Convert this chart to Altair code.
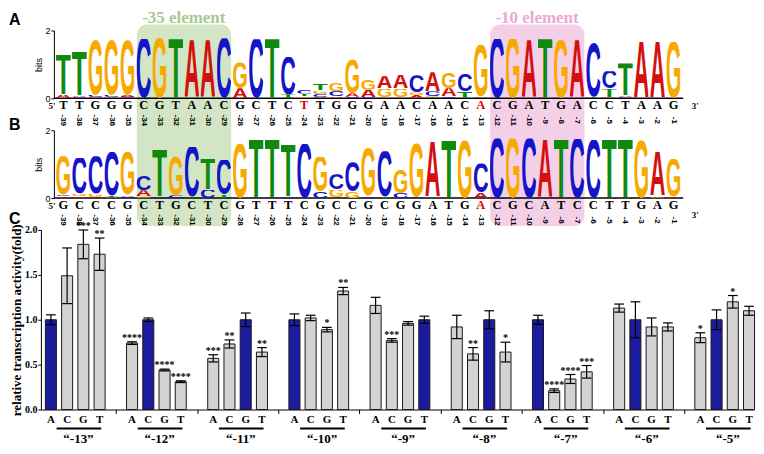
import base64
import altair as alt
import pandas as pd

# ---------------- data ----------------
POSITIONS = list(range(-39, 0))
SEQ_A = "TTGGGCGTAACGCTCTTGGGAACAACACGATGACCTAAG"
SEQ_B = "GCCCGCTGCTCGTTTCGCCGCGGATGACGCATCCTTGAG"
RED_POS_A = [-24, -13]
RED_POS_B = [-13]

# information content (bits) per letter, positions -39 .. -1
A_BITS_A = [.10, .05, .04, .03, .06, 0, 0, 0, 1.71, 1.71, 0, .30, 0, 0, 0, .02, .04, .05, .10, .22,
            .36, .40, .08, .56, .25, .02, .05, 0, 0, 1.71, 0, 0, 1.71, 0, .03, .05, 1.66, 1.66, 0]
C_BITS_A = [0, .03, .06, .07, .03, 1.76, 0, 0, 0, 0, 1.77, 0, 1.74, 0, 1.10, .12, .09, .15, .05, .03,
            .02, .02, .50, .14, .05, .50, 0, 1.76, 0, 0, 0, 0, 0, 1.58, .52, .03, 0, 0, 0]
G_BITS_A = [0, 0, 1.62, 1.62, 1.62, 0, 1.77, 0, 0, 0, 0, .76, 0, 0, 0, .05, .10, .24, 1.00, .32,
            .27, .27, .08, .04, .45, 0, 1.52, 0, 1.76, 0, 0, 1.71, 0, 0, 0, 0, 0, 0, 1.66]
T_BITS_A = [1.18, 1.30, 0, 0, 0, 0, 0, 1.74, 0, 0, 0, 0, 0, 1.74, .12, .07, .20, .02, 0, 0,
            0, 0, .02, .03, 0, .20, 0, 0, 0, 0, 1.74, 0, 0, .05, .25, .95, 0, 0, 0]

A_BITS_B = [.05, .05, .03, 0, .05, .18, 0, 0, 0, 0, 0, 0, 0, 0, 0, 0, 0, .03, 0, 0,
            0, 0, 0, 1.64, 0, 0, .16, 0, 0, 0, 1.71, 0, 0, 0, 0, 0, 0, 1.32, .05]
C_BITS_B = [.05, 1.05, 1.10, 1.30, .03, .42, .04, .08, 1.50, .25, 1.02, 0, 0, 0, .03, 1.60, .20, .45, .86, .05,
            1.35, .15, .03, 0, 0, 0, .86, 1.76, 0, 1.76, 0, 0, 1.74, 1.71, 0, 0, 0, 0, 0]
G_BITS_B = [1.13, .08, .10, .02, 1.28, .05, 0, 1.15, 0, 0, 0, 1.60, 0, 0, 0, 0, 1.02, .22, .20, 1.42,
            0, .68, 1.58, 0, 0, 1.70, 0, 0, 1.76, 0, 0, 0, 0, 0, 0, 0, 1.70, .05, 1.10]
T_BITS_B = [0, 0, 0, .05, 0, 0, 1.38, 0, .02, .90, .10, 0, 1.71, 1.71, 1.55, 0, 0, 0, 0, 0,
            .03, 0, 0, .02, 1.70, 0, 0, 0, 0, 0, 0, 1.71, 0, 0, 1.71, 1.71, 0, 0, 0]

ELEMENT_NAMES = ["-35 element", "-10 element"]
ELEMENT_START = [-34, -12]
ELEMENT_END = [-29, -7]

GROUPS = ["-13", "-12", "-11", "-10", "-9", "-8", "-7", "-6", "-5"]
BASES = ["A", "C", "G", "T"]
REF_BASE = ["A", "C", "G", "A", "T", "G", "A", "C", "C"]
VALUES = [[1.00, 1.49, 1.84, 1.73],
          [0.74, 1.00, 0.44, 0.31],
          [0.57, 0.73, 1.00, 0.64],
          [1.00, 1.02, 0.89, 1.32],
          [1.16, 0.77, 0.96, 1.00],
          [0.92, 0.62, 1.00, 0.64],
          [1.00, 0.21, 0.34, 0.42],
          [1.13, 1.00, 0.92, 0.92],
          [0.80, 1.00, 1.20, 1.10]]
ERRORS = [[.055, .31, .16, .18],
          [.015, .02, .01, .01],
          [.04, .045, .075, .05],
          [.065, .03, .025, .04],
          [.09, .02, .02, .04],
          [.13, .07, .10, .11],
          [.05, .02, .05, .07],
          [.045, .20, .10, .045],
          [.055, .11, .07, .05]]
STARS = [["", "", "***", "**"],
         ["****", "", "****", "****"],
         ["***", "**", "", "**"],
         ["", "", "*", "**"],
         ["", "***", "", ""],
         ["", "**", "", "*"],
         ["", "****", "****", "***"],
         ["", "", "", ""],
         ["*", "", "*", ""]]

# ---------------- styles ----------------
LETTER_COLORS = {"A": "#d40f0f", "C": "#1414c8", "G": "#f6aa00", "T": "#0f8a0f"}
BOX_FILLS = ["#d2e5c4", "#f4d0e8"]
ELEMENT_COLORS = ["#a6c98f", "#eaa8d3"]
BLUE = "#1b1b9e"
GRAY = "#d3d3d3"
SERIF = "Liberation Serif"
SANS = "Liberation Sans"

W = 715
H_LOGO = 68
H_BAR = 180

XS_LOGO = alt.Scale(domain=[-1.3975, 43.0125], nice=False, zero=False)
YS_LOGO = alt.Scale(domain=[0, 2], nice=False, zero=False)
XS_BAR = alt.Scale(domain=[-0.614, 43.306], nice=False, zero=False)
YS_BAR = alt.Scale(domain=[0, 2], nice=False, zero=False)

AXIS_BITS = alt.Axis(values=[0, 1, 2], format="d", title="bits", offset=-13, tickSize=3,
                     labelFontSize=9, titleFontSize=9, labelFont=SANS, titleFont=SANS,
                     titleFontWeight="normal", labelPadding=1, titlePadding=1,
                     domainColor="black", tickColor="black", labelColor="black",
                     titleColor="black", grid=False)
AXIS_BAR_Y = alt.Axis(values=[0, 0.5, 1, 1.5, 2], format=".1f",
                      title="relative transcription activity(fold)",
                      titleFont=SERIF, titleFontWeight="bold", titleFontSize=13,
                      labelFont=SERIF, labelFontWeight="bold", labelFontSize=10,
                      tickSize=3, labelPadding=1, titlePadding=1, grid=False,
                      domainColor="black", tickColor="black", labelColor="black",
                      titleColor="black")
AXIS_BAR_X = alt.Axis(values=[5 * g + 4 for g in range(len(GROUPS) - 1)], labels=False,
                      tickSize=4, title=None, grid=False, domainColor="black",
                      tickColor="black")


def letter_uri(letter):
    svg = ("<svg xmlns='http://www.w3.org/2000/svg' width='100' height='100' viewBox='0 0 100 100' "
           "preserveAspectRatio='none'>"
           "<text x='50' y='98' text-anchor='middle' font-family='Liberation Sans, Arial, sans-serif' "
           "font-weight='bold' font-size='143' textLength='106' lengthAdjust='spacingAndGlyphs' "
           f"fill='{LETTER_COLORS[letter]}'>{letter}</text></svg>")
    return "data:image/svg+xml;base64," + base64.b64encode(svg.encode()).decode()


URIS = {L: letter_uri(L) for L in "ACGT"}
IDX = [p + 39 for p in POSITIONS]


def logo_frame(bits):
    rows = []
    for i in range(len(POSITIONS)):
        stack = sorted((bits[L][i], L) for L in "ACGT" if bits[L][i] > 0)
        base = 0.0
        for h, L in stack:
            rows.append(dict(x0=i - 0.46, x1=i + 0.46, y0=base, y1=base + h, url=URIS[L]))
            base += h
    return pd.DataFrame(rows)


def lx(field):
    return alt.X(field, type="quantitative", scale=XS_LOGO, axis=None)


def ly(field):
    return alt.Y(field, type="quantitative", scale=YS_LOGO, axis=AXIS_BITS)


def logo_panel(bits, seq, red_pos, panel_letter, top):
    logo_df = logo_frame(bits)
    seq_df = pd.DataFrame({"x": IDX, "t": list(seq),
                           "c": ["#e00000" if p in red_pos else "black" for p in POSITIONS]})
    num_df = pd.DataFrame({"x": IDX, "t": [str(p) for p in POSITIONS]})
    box_df = pd.DataFrame({"x0": [s + 39 - 0.42 for s in ELEMENT_START],
                           "x1": [e + 39 + 0.45 for e in ELEMENT_END],
                           "fill": BOX_FILLS})
    if top:
        radius = dict(cornerRadiusTopLeft=10, cornerRadiusTopRight=10)
        ytop, ybot = -6, H_LOGO + 34
    else:
        radius = dict(cornerRadiusBottomLeft=10, cornerRadiusBottomRight=10)
        ytop, ybot = -2, H_LOGO + 28
    boxes = alt.Chart(box_df).mark_rect(**radius).encode(
        x=lx("x0"), x2="x1:Q", y=alt.value(ytop), y2=alt.value(ybot),
        fill=alt.Fill("fill:N", scale=None))

    base_df = pd.DataFrame({"x0": [IDX[0] - 0.59], "x1": [IDX[-1] + 0.6], "y": [0]})
    baseline = alt.Chart(base_df).mark_rule(color="black", strokeWidth=1.5).encode(
        x=lx("x0"), x2="x1:Q", y=ly("y"))

    logo = alt.Chart(logo_df).mark_image(aspect=False).encode(
        x=lx("x0"), x2="x1:Q", y=ly("y0"), y2="y1:Q", url="url:N")

    seq_row = alt.Chart(seq_df).mark_text(font=SERIF, fontWeight="bold", fontSize=12.5,
                                          baseline="middle").encode(
        x=lx("x"), y=alt.value(H_LOGO + 7), text="t:N", color=alt.Color("c:N", scale=None))
    nums = alt.Chart(num_df).mark_text(font=SANS, fontWeight="bold", fontSize=8, angle=90,
                                       baseline="middle", align="center").encode(
        x=lx("x"), y=alt.value(H_LOGO + 22), text="t:N")
    five = alt.Chart(pd.DataFrame({"x": [IDX[0] - 0.71], "t": ["5'"]})).mark_text(
        font=SERIF, fontSize=9, fontWeight="bold", baseline="middle").encode(
        x=lx("x"), y=alt.value(H_LOGO + 8), text="t:N")
    three = alt.Chart(pd.DataFrame({"x": [IDX[-1] + 1.35], "t": ["3'"]})).mark_text(
        font=SERIF, fontSize=9, fontWeight="bold", baseline="middle").encode(
        x=lx("x"), y=alt.value(H_LOGO + (8 if top else 17)), text="t:N")
    lab = alt.Chart(pd.DataFrame({"x": [-3.385], "t": [panel_letter]})).mark_text(
        font=SANS, fontSize=16, fontWeight="bold", align="left", baseline="middle").encode(
        x=lx("x"), y=alt.value(-11 if top else -5), text="t:N")
    layers = [boxes, baseline, logo, seq_row, nums, five, three, lab]
    if top:
        el_df = pd.DataFrame({"x": [(s + e) / 2 + 39 for s, e in zip(ELEMENT_START, ELEMENT_END)],
                              "t": ELEMENT_NAMES, "c": ELEMENT_COLORS})
        elements = alt.Chart(el_df).mark_text(font=SERIF, fontSize=17, fontWeight="bold",
                                              baseline="middle").encode(
            x=lx("x"), y=alt.value(-13), text="t:N", color=alt.Color("c:N", scale=None))
        layers.append(elements)
    return alt.layer(*layers).properties(width=W, height=H_LOGO)


panel_a = logo_panel({"A": A_BITS_A, "C": C_BITS_A, "G": G_BITS_A, "T": T_BITS_A},
                     SEQ_A, RED_POS_A, "A", True)
panel_b = logo_panel({"A": A_BITS_B, "C": C_BITS_B, "G": G_BITS_B, "T": T_BITS_B},
                     SEQ_B, RED_POS_B, "B", False)

# ---------------- panel C ----------------
bar_rows, cap_rows, grp_rows = [], [], []
for g, grp in enumerate(GROUPS):
    for j, b in enumerate(BASES):
        s = 5 * g + j
        v, e = VALUES[g][j], ERRORS[g][j]
        bar_rows.append(dict(s=s, x0=s - 0.34, x1=s + 0.34, v=v, lo=v - e, hi=v + e,
                             star=STARS[g][j], base=b, zero=0.0,
                             fill=BLUE if b == REF_BASE[g] else GRAY))
        for yv in (v - e, v + e):
            cap_rows.append(dict(c0=s - 0.3, c1=s + 0.3, y=yv))
    grp_rows.append(dict(u0=5 * g + 0.35, u1=5 * g + 3.1, gx=5 * g + 1.7,
                         t="\u201c" + grp + "\u201d"))
bars_df = pd.DataFrame(bar_rows)
caps_df = pd.DataFrame(cap_rows)
grp_df = pd.DataFrame(grp_rows)


def bx(field):
    return alt.X(field, type="quantitative", scale=XS_BAR, axis=AXIS_BAR_X)


def by(field):
    return alt.Y(field, type="quantitative", scale=YS_BAR, axis=AXIS_BAR_Y)


bars = alt.Chart(bars_df).mark_rect(stroke="#1a1a1a", strokeWidth=1).encode(
    x=bx("x0"), x2="x1:Q", y=by("v"), y2="zero:Q",
    fill=alt.Fill("fill:N", scale=None))
err = alt.Chart(bars_df).mark_rule(color="black", strokeWidth=1.2).encode(
    x=bx("s"), y=by("lo"), y2="hi:Q")
caps = alt.Chart(caps_df).mark_rule(color="black", strokeWidth=1.2).encode(
    x=bx("c0"), x2="c1:Q", y=by("y"))
stars = alt.Chart(bars_df).mark_text(font=SERIF, fontWeight="bold", fontSize=10,
                                     baseline="alphabetic", dy=-1).encode(
    x=bx("s"), y=by("hi"), text="star:N")
base_lab = alt.Chart(bars_df).mark_text(font=SERIF, fontWeight="bold", fontSize=11,
                                        baseline="middle").encode(
    x=bx("s"), y=alt.value(H_BAR + 11), text="base:N")
underline = alt.Chart(grp_df).mark_rule(color="black", strokeWidth=2).encode(
    x=bx("u0"), x2="u1:Q", y=alt.value(H_BAR + 19))
grp_lab = alt.Chart(grp_df).mark_text(font=SERIF, fontWeight="bold", fontSize=13,
                                      baseline="middle").encode(
    x=bx("gx"), y=alt.value(H_BAR + 29.5), text="t:N")
c_lab = alt.Chart(pd.DataFrame({"x": [-2.58], "t": ["C"]})).mark_text(
    font=SANS, fontSize=16, fontWeight="bold", align="left", baseline="middle").encode(
    x=bx("x"), y=alt.value(-11), text="t:N")

panel_c = alt.layer(bars, err, caps, stars, base_lab, underline, grp_lab, c_lab).properties(
    width=W, height=H_BAR)

chart = alt.vconcat(panel_a, panel_b, panel_c, spacing=32, bounds="flush").properties(
    padding=0, background="white").configure_view(stroke=None)

chart.save("out.html", embed_options={"renderer": "svg", "actions": False})
